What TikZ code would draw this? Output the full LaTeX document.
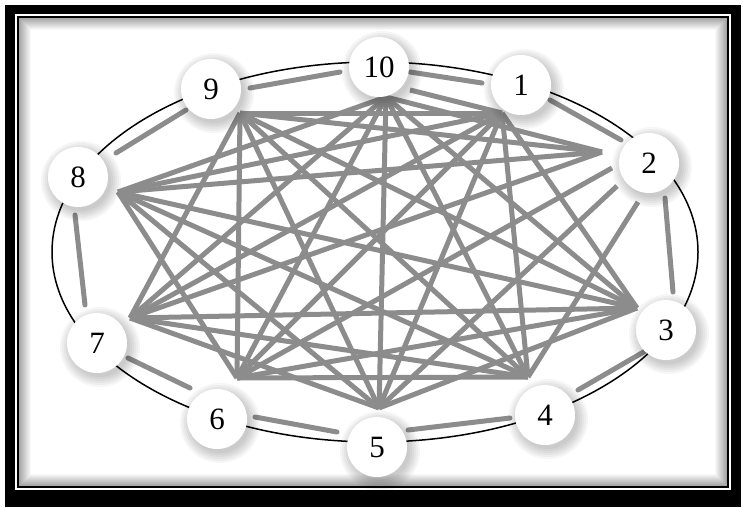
\documentclass[tikz,border=0pt]{standalone}
\usepackage{fontspec}
\setmainfont{Liberation Serif}
\definecolor{edgegray}{RGB}{140,140,140}
\begin{document}
\begin{tikzpicture}[x=1pt,y=-1pt,
  chord/.style={draw=edgegray, line width=5pt},
  ringseg/.style={draw=edgegray, line width=5pt, line cap=round},
  vtx/.style={circle, fill=white, minimum size=60pt, inner sep=0pt,
    font=\fontsize{31}{31}\selectfont},
]
\useasboundingbox (0,0) rectangle (743,507);
% frame
\fill[white] (0,0) rectangle (743,507);
\fill[black] (5,5) rectangle (741,507);
\fill[white] (15,14) rectangle (731,490);
\fill[black] (17,16) rectangle (729,488);
\fill[white] (19,18) rectangle (727,486);
\foreach \k [evaluate=\k as \op using {0.35*(1-\k/12)}] in {0,...,11}
  \draw[black, draw opacity=\op, line width=1pt] (19.5+\k,18.5+\k) rectangle (726.5-\k,485.5-\k);

% apex points
\coordinate (a1) at (502,113);
\coordinate (a2) at (602,152);
\coordinate (a3) at (637,308);
\coordinate (a4) at (528,377);
\coordinate (a5) at (379,408);
\coordinate (a6) at (237,378);
\coordinate (a7) at (130,318);
\coordinate (a8) at (118,192);
\coordinate (a9) at (240,113);
\coordinate (a10) at (386,97);
% free ends
\coordinate (e10) at (410,90);
\coordinate (e2a) at (612,168);
\coordinate (e2b) at (617,186);
\coordinate (e2c) at (638,202);
% ring segment ends
\coordinate (r9a) at (250,88);  \coordinate (r9b) at (340,72);
\coordinate (r10a) at (410,72); \coordinate (r10b) at (482,83);
\coordinate (r1a) at (550,100); \coordinate (r1b) at (621,140);
\coordinate (r2a) at (665,198); \coordinate (r2b) at (673,292);
\coordinate (r3a) at (647,350); \coordinate (r3b) at (578,390);
\coordinate (r4a) at (510,418); \coordinate (r4b) at (408,430);
\coordinate (r5a) at (337,432); \coordinate (r5b) at (255,417);
\coordinate (r6a) at (190,388); \coordinate (r6b) at (128,358);
\coordinate (r7a) at (85,305);  \coordinate (r7b) at (75,215);
\coordinate (r8a) at (116,153); \coordinate (r8b) at (186,110);

\draw[line width=1.5pt] (375,252) ellipse [x radius=323, y radius=190];
\foreach \s in {9,10,1,2,3,4,5,6,7,8}
  \draw[ringseg] (r\s a) -- (r\s b);
\foreach \i/\j in {1/3,1/4,1/5,1/6,1/7,1/8,1/9,
                   2/7,2/8,2/9,2/10,
                   3/5,3/6,3/7,3/8,3/9,3/10,
                   4/6,4/7,4/8,4/9,4/10,
                   5/7,5/8,5/9,5/10,
                   6/8,6/9,6/10,
                   7/9,7/10,
                   8/10}
  \draw[chord] (a\i) -- (a\j);
\draw[chord] (a1) -- (e10);
\draw[chord] (a6) -- (e2a);
\draw[chord] (a5) -- (e2b);
\draw[chord] (a4) -- (e2c);

% soft shadows of the vertices
\foreach \x/\y in {521/85,649/163,666/330,545/415,377/447,217/419,97/343,78/177,211/89,379/67}
  \foreach \r in {40,38,...,30}
    \fill[black, opacity=0.035] (\x+3,\y+4) circle (\r);

% vertices
\node[vtx] (n1)  at (521,85)  {1};
\node[vtx] (n2)  at (649,163) {2};
\node[vtx] (n3)  at (666,330) {3};
\node[vtx] (n4)  at (545,415) {4};
\node[vtx] (n5)  at (377,447) {5};
\node[vtx] (n6)  at (217,419) {6};
\node[vtx] (n7)  at (97,343)  {7};
\node[vtx] (n8)  at (78,177)  {8};
\node[vtx] (n9)  at (211,89)  {9};
\node[vtx] (n10) at (379,67)  {10};
\end{tikzpicture}
\end{document}
